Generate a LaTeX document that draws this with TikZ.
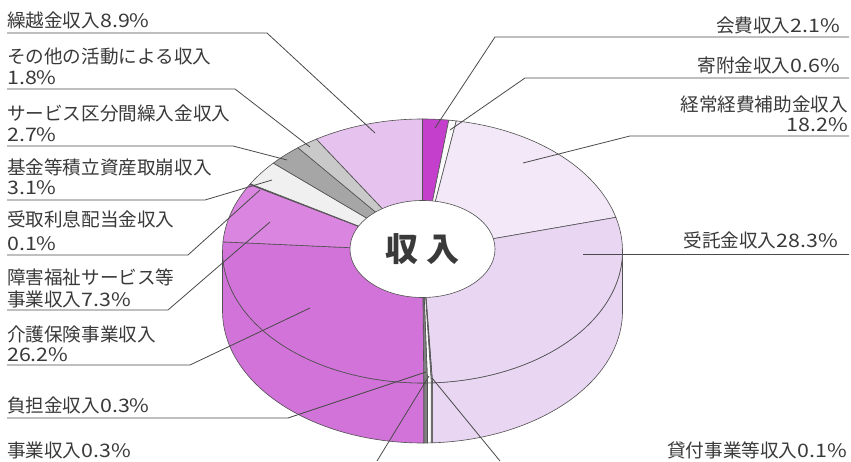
\documentclass[tikz,border=0pt]{standalone}
\usepackage{fontspec}
\usetikzlibrary{shapes.geometric}
\newfontfamily\jp{Noto Sans CJK JP}
\newfontfamily\jpnumfont{Noto Sans CJK JP}[FakeStretch=1.15]
\newcommand\nm[1]{{\jpnumfont #1}}
\definecolor{txt}{HTML}{3A3A3A}
\definecolor{leadc}{HTML}{4A4A4A}
\definecolor{edgec}{HTML}{505050}
\definecolor{cKaihi}{HTML}{C43FCB}
\definecolor{cKifu}{HTML}{FAFAFA}
\definecolor{cKeijo}{HTML}{F2E8F8}
\definecolor{cJutaku}{HTML}{E9D6F3}
\definecolor{cKashi}{HTML}{A0A0A0}
\definecolor{cJigyo}{HTML}{FFFFFF}
\definecolor{cFutan}{HTML}{808080}
\definecolor{cKaigo}{HTML}{D273D9}
\definecolor{cShogai}{HTML}{DA85DF}
\definecolor{cRisoku}{HTML}{D070D8}
\definecolor{cKikin}{HTML}{F0F0F0}
\definecolor{cService}{HTML}{A6A6A6}
\definecolor{cSonota}{HTML}{C9C9C9}
\definecolor{cKuri}{HTML}{E6C3EE}
\newcommand\pcx{422.5}
\newcommand\pcy{210}
\newcommand\prx{200}
\newcommand\pry{132}
\newcommand\pdd{60}
\newcommand\mywedge[3]{\filldraw[fill=#3, edgeline] (\pcx,\pcy) -- ++(#1:\prx pt and \pry pt) arc[start angle=#1, end angle=#2, x radius=\prx pt, y radius=\pry pt] -- cycle;}
\newcommand\myside[3]{\filldraw[fill=#3, edgeline] (\pcx,\pcy) ++(#1:\prx pt and \pry pt) arc[start angle=#1, end angle=#2, x radius=\prx pt, y radius=\pry pt] -- ++(0,-\pdd) arc[start angle=#2, end angle=#1, x radius=\prx pt, y radius=\pry pt] -- cycle;}
\begin{document}
\begin{tikzpicture}[x=1pt,y=1pt,
  lbl/.style={inner sep=0pt, font=\jp\fontsize{18.6}{21}\selectfont, text=txt},
  lbll/.style={lbl, anchor=base west},
  lblr/.style={lbl, anchor=base east},
  lead/.style={draw=leadc, line width=0.8pt, line join=round},
  edgeline/.style={draw=edgec, line width=0.6pt, line join=round}]
\useasboundingbox (0,0) rectangle (851,461);
\fill[white] (0,0) rectangle (851,461);
% side wall
\myside{0}{-87.12}{cJutaku}
\myside{-87.12}{-87.48}{cKashi}
\myside{-87.48}{-88.56}{cJigyo}
\myside{-88.56}{-89.64}{cFutan}
\myside{-89.64}{-180}{cKaigo}
% top face
\mywedge{90}{82.44}{cKaihi}
\mywedge{82.44}{80.28}{cKifu}
\mywedge{80.28}{14.76}{cKeijo}
\mywedge{14.76}{-87.12}{cJutaku}
\mywedge{-87.12}{-87.48}{cKashi}
\mywedge{-87.48}{-88.56}{cJigyo}
\mywedge{-88.56}{-89.64}{cFutan}
\mywedge{-89.64}{-183.96}{cKaigo}
\mywedge{-183.96}{-210.24}{cShogai}
\mywedge{-210.24}{-210.6}{cRisoku}
\mywedge{-210.6}{-221.76}{cKikin}
\mywedge{-221.76}{-231.48}{cService}
\mywedge{-231.48}{-237.96}{cSonota}
\mywedge{-237.96}{-270}{cKuri}
% centre hole
\node (hole) [ellipse, draw=edgec, line width=0.6pt, fill=white, minimum width=145pt, minimum height=97pt, inner sep=0pt,
  font=\jp\bfseries\fontsize{33}{33}\selectfont, text=txt] at (422.5,212) {収\hspace{9pt}入};
% left labels
\node[lbll] (l1) at (7,433) {繰越金収入\nm{8.9\%}};
\node[lbll] (l2a) at (7,397) {その他の活動による収入};
\node[lbll] (l2b) at (7,376) {\nm{1.8\%}};
\node[lbll] (l3a) at (7,340) {サービス区分間繰入金収入};
\node[lbll] (l3b) at (7,319) {\nm{2.7\%}};
\node[lbll] (l4a) at (7,286) {基金等積立資産取崩収入};
\node[lbll] (l4b) at (7,266) {\nm{3.1\%}};
\node[lbll] (l5a) at (7,234) {受取利息配当金収入};
\node[lbll] (l5b) at (7,211) {\nm{0.1\%}};
\node[lbll] (l6a) at (7,177) {障害福祉サービス等};
\node[lbll] (l6b) at (7,155) {事業収入\nm{7.3\%}};
\node[lbll] (l7a) at (7,120) {介護保険事業収入};
\node[lbll] (l7b) at (7,100) {\nm{26.2\%}};
\node[lbll] (l8) at (7,49) {負担金収入\nm{0.3\%}};
\node[lbll] (l9) at (7,4) {事業収入\nm{0.3\%}};
% right labels
\node[lblr] (r1) at (840,428) {会費収入\nm{2.1\%}};
\node[lblr] (r2) at (840,388) {寄附金収入\nm{0.6\%}};
\node[lblr] (r3a) at (848,349) {経常経費補助金収入};
\node[lblr] (r3b) at (848,329) {\nm{18.2\%}};
\node[lblr] (r4) at (838,213) {受託金収入\nm{28.3\%}};
\node[lblr] (r5) at (847,4) {貸付事業等収入\nm{0.1\%}};
% leader coordinates
\coordinate (u1) at (7,428);   \coordinate (k1) at (267,428); \coordinate (t1) at (375,328);
\coordinate (u2) at (7,372);   \coordinate (k2) at (235,372); \coordinate (t2) at (310,314);
\coordinate (u3) at (7,315);   \coordinate (k3) at (233,315); \coordinate (t3) at (287,301);
\coordinate (u4) at (7,261);   \coordinate (k4) at (205,261); \coordinate (t4) at (272,281);
\coordinate (u5) at (7,206);   \coordinate (k5) at (188,206); \coordinate (t5) at (260,271);
\coordinate (u6) at (7,151);   \coordinate (k6) at (168,151); \coordinate (t6) at (270,239);
\coordinate (u7) at (7,96);    \coordinate (k7) at (190,96);  \coordinate (t7) at (310,153);
\coordinate (u8) at (7,43);    \coordinate (k8) at (288,43);  \coordinate (t8) at (426,89);
\coordinate (k9) at (377,0);   \coordinate (t9) at (429,85);
\coordinate (v1) at (849,424); \coordinate (j1) at (495,424); \coordinate (s1) at (435,333);
\coordinate (v2) at (849,383); \coordinate (j2) at (525,383); \coordinate (s2) at (450,331);
\coordinate (v3) at (849,325); \coordinate (j3) at (630,325); \coordinate (s3) at (523,298);
\coordinate (v4) at (849,207); \coordinate (s4) at (583,207);
\coordinate (j5) at (500,0);   \coordinate (s5) at (432,83);
% leaders
\draw[lead] (u1) -- (k1) -- (t1);
\draw[lead] (u2) -- (k2) -- (t2);
\draw[lead] (u3) -- (k3) -- (t3);
\draw[lead] (u4) -- (k4) -- (t4);
\draw[lead] (u5) -- (k5) -- (t5);
\draw[lead] (u6) -- (k6) -- (t6);
\draw[lead] (u7) -- (k7) -- (t7);
\draw[lead] (u8) -- (k8) -- (t8);
\draw[lead] (k9) -- (t9);
\draw[lead] (v1) -- (j1) -- (s1);
\draw[lead] (v2) -- (j2) -- (s2);
\draw[lead] (v3) -- (j3) -- (s3);
\draw[lead] (v4) -- (s4);
\draw[lead] (j5) -- (s5);
\end{tikzpicture}
\end{document}
